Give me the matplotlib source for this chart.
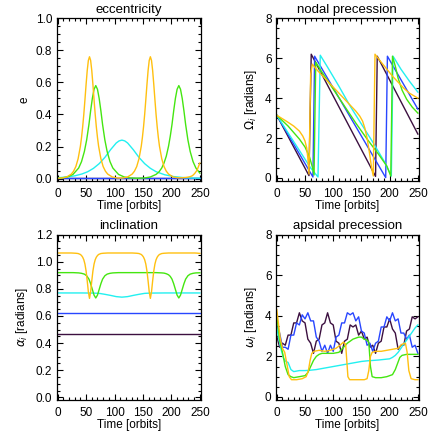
import matplotlib
matplotlib.use("Agg")
import matplotlib.pyplot as plt
from matplotlib.ticker import MultipleLocator, FormatStrFormatter

plt.rcParams['font.family'] = ['Liberation Sans', 'DejaVu Sans']

# colours of the five bodies (lowest to highest inclination)
c_purple = '#3c1040'
c_blue = '#2846ff'
c_cyan = '#22f0f0'
c_green = '#44e610'
c_orange = '#ffc010'

# ---- eccentricity / inclination, sampled per body ----
t_orange = [0, 8, 16, 24, 28, 32, 36, 40, 42, 44, 46, 48, 50, 52, 54, 56, 58, 60, 62, 64,
            66, 68, 70, 72, 76, 80, 84, 88, 96, 104, 110, 115, 123, 131, 135, 139, 143, 147, 149, 151,
            153, 155, 157, 159, 161, 163, 165, 167, 169, 171, 173, 175, 177, 179, 183, 187, 191, 195, 203, 211,
            219, 225, 229, 233, 237, 241, 245, 250]
e_orange = [.001, .004, .010, .028, .046, .075, .124, .202, .257, .323,
            .401, .492, .587, .674, .737, .760, .737, .674, .587, .492,
            .401, .323, .257, .202, .124, .075, .046, .028, .010, .004,
            .003, .004, .010, .028, .046, .075, .124, .202, .257, .323,
            .401, .492, .587, .674, .737, .760, .737, .674, .587, .492,
            .401, .323, .257, .202, .124, .075, .046, .028, .010, .005,
            .005, .007, .009, .012, .018, .032, .052, .097]
i_orange = [1.065, 1.065, 1.065, 1.065, 1.064, 1.063, 1.061, 1.054, 1.046, 1.034,
            1.015, .983, .932, .859, .778, .73, .778, .859, .932, .983,
            1.015, 1.034, 1.046, 1.054, 1.061, 1.063, 1.064, 1.065, 1.065, 1.065,
            1.065, 1.065, 1.065, 1.065, 1.064, 1.063, 1.061, 1.054, 1.046, 1.034,
            1.015, .983, .932, .859, .778, .73, .778, .859, .932, .983,
            1.015, 1.034, 1.046, 1.054, 1.061, 1.063, 1.064, 1.065, 1.065, 1.065,
            1.065, 1.065, 1.065, 1.065, 1.065, 1.065, 1.064, 1.062]

t_green = [0, 7, 17, 27, 37, 42, 47, 51, 55, 58,
           61, 64, 67, 70, 73, 76, 79, 83, 87, 92,
           97, 107, 117, 127, 140, 153, 163, 173, 178, 183,
           187, 191, 195, 198, 201, 204, 207, 210, 213, 216,
           219, 222, 225, 229, 233, 238, 243, 250]
e_green = [.002, .004, .010, .026, .066, .106, .169, .241, .337, .423,
           .500, .557, .580, .557, .500, .423, .337, .241, .169, .106,
           .066, .026, .010, .004, .002, .004, .010, .026, .041, .066,
           .097, .140, .203, .265, .337, .423, .500, .557, .580, .557,
           .500, .423, .337, .241, .169, .106, .066, .034]
i_green = [.92, .92, .92, .92, .918, .915, .909, .897, .872, .838,
           .796, .754, .733, .754, .796, .838, .872, .897, .909, .915,
           .918, .92, .92, .92, .92, .92, .92, .92, .919, .918,
           .9165, .912, .904, .892, .872, .838, .796, .754, .733, .754,
           .796, .838, .872, .897, .909, .915, .918, .919]

t_cyan = [0, 15, 30, 43, 53, 63, 73, 83, 93, 103,
          108, 113, 118, 123, 133, 143, 153, 163, 173, 188,
          203, 220, 235, 250]
e_cyan = [.005, .0095, .017, .029, .043, .064, .093, .132, .180, .222,
          .235, .24, .235, .222, .180, .132, .093, .064, .043, .024,
          .013, .0066, .0036, .002]
i_cyan = [.77, .77, .77, .77, .7695, .769, .767, .760, .752, .743,
          .741, .739, .741, .743, .752, .760, .767, .769, .7695, .77,
          .77, .77, .77, .77]

t_flat = [0, 250]
e_blue = [0.004, 0.004]
e_purple = [0.002, 0.002]
i_blue = [0.62, 0.62]
i_purple = [0.47, 0.47]

# ---- nodal precession ----
tn_purple = [0, 57, 61, 175, 178, 250]
node_purple = [3.14, 0.12, 6.2, 0.08, 6.1, 2.2]
tn_blue = [0, 64, 67, 193, 196, 250]
node_blue = [3.14, 0.05, 6.1, 0.02, 6.1, 3.45]
tn_cyan = [0, 20, 40, 60, 73, 77, 90, 110, 130, 150, 170, 190, 203, 206, 220, 235, 250]
node_cyan = [3.14, 2.26, 1.38, 0.5, 0.05, 6.15, 5.55, 4.6, 3.6, 2.7, 1.8, 0.85, 0.1, 6.1, 5.45, 4.85, 4.3]
tn_green = [0, 20, 40, 50, 58, 63, 66, 69, 80, 100, 120, 140, 160, 180, 195, 202,
            205, 210, 215, 222, 230, 240, 250]
node_green = [3.14, 2.6, 1.95, 1.55, 1.05, 0.55, 0.15, 5.8, 5.3, 4.45, 3.6, 2.75, 1.95, 1.2, 0.6, 0.1,
              6.1, 5.6, 5.0, 4.4, 3.95, 3.55, 3.25]
tn_orange = [0, 15, 30, 40, 46, 50, 53, 55, 57, 60, 63, 70, 80, 90, 100, 110, 120, 130, 140, 147,
             152, 156, 160, 164, 168, 171, 174, 178, 185, 195, 205, 215, 225, 235, 250]
node_orange = [3.14, 2.88, 2.6, 2.35, 2.1, 1.85, 1.5, 1.0, 0.2, 5.2, 5.7, 5.45, 5.15, 4.85, 4.55, 4.25,
               3.95, 3.65, 3.35, 3.1, 2.85, 2.5, 2.0, 1.3, 0.5, 0.1, 6.2, 6.05, 5.8, 5.45, 5.1, 4.8,
               4.5, 4.25, 4.0]

# ---- apsidal precession ----
ta_5 = list(range(0, 251, 5))
peri_purple = [3.0, 2.45, 2.65, 2.55, 3.05, 3.05, 3.65, 3.65, 4.15, 3.75,
               3.65, 2.85, 2.65, 2.15, 2.75, 2.85, 3.55, 3.65, 4.15, 3.65,
               3.55, 2.75, 2.65, 2.15, 2.75, 2.85, 3.55, 3.45, 3.55, 3.05,
               3.25, 2.85, 2.95, 2.45, 2.55, 2.15, 2.65, 2.75, 3.45, 3.45,
               3.85, 3.35, 3.15, 2.35, 2.55, 2.55, 3.25, 3.35, 3.95, 3.85, 3.95]
peri_blue = [3.5, 3.15, 2.45, 2.45, 2.35, 3.05, 3.05, 3.65, 3.55, 4.05,
             3.85, 4.15, 3.75, 3.75, 2.95, 2.75, 2.25, 2.55, 2.15, 2.55,
             2.25, 2.95, 3.05, 3.65, 3.65, 4.15, 4.05, 4.15, 3.75, 3.95,
             3.25, 3.15, 2.55, 2.65, 2.25, 2.65, 2.75, 3.45, 3.45, 3.95,
             3.75, 4.15, 3.75, 3.85, 3.15, 3.15, 2.85, 3.05, 2.45, 2.55, 2.15]
ta_cyan = [0, 4, 8, 12, 16, 20, 25, 30, 40, 50, 60, 70, 80, 90, 100, 110, 120, 130, 140, 150,
           160, 170, 180, 190, 200, 205, 210, 215, 220, 225, 230, 235, 240, 245, 250]
peri_cyan = [3.4, 2.8, 2.3, 1.9, 1.75, 1.7, 1.35, 1.25, 1.3, 1.3, 1.32, 1.35, 1.4, 1.45, 1.5, 1.55,
             1.6, 1.65, 1.7, 1.75, 1.78, 1.8, 1.82, 1.85, 1.88, 1.95, 2.05, 2.2, 2.4, 2.6, 2.8, 3.0,
             3.2, 3.4, 3.55]
ta_green = [0, 5, 10, 15, 20, 25, 30, 40, 50, 55, 60, 65, 70, 75, 80, 90, 100, 110, 115, 120,
            125, 130, 135, 140, 145, 150, 155, 160, 163, 166, 169, 175, 185, 195, 205, 210, 214, 218,
            222, 230, 240, 250]
peri_green = [4.0, 2.8, 2.2, 1.5, 1.1, 1.0, 0.95, 1.0, 1.05, 1.2, 1.5, 1.8, 2.0, 2.1, 2.15, 2.15,
              2.15, 2.2, 2.35, 2.5, 2.65, 2.75, 2.85, 2.9, 2.95, 2.95, 2.85, 2.8, 2.7, 1.5, 1.0, 0.95,
              0.95, 1.0, 1.1, 1.35, 1.65, 1.95, 2.05, 2.1, 2.1, 2.1]
ta_orange = [0, 3, 6, 10, 14, 18, 22, 26, 35, 45, 52, 56, 59, 62, 66, 75, 85, 95, 105, 112,
             118, 122, 124, 126, 129, 135, 145, 155, 160, 163, 166, 169, 175, 185, 195, 205, 215,
             222, 228, 231, 234, 238, 245, 250]
peri_orange = [4.3, 3.6, 2.9, 2.4, 2.2, 1.6, 1.0, 0.85, 0.85, 0.9, 1.0, 1.3, 1.8, 2.15, 2.25, 2.3,
               2.25, 2.3, 2.4, 2.55, 2.7, 2.6, 1.8, 1.0, 0.85, 0.85, 0.85, 0.85, 0.9, 1.3, 2.0, 2.2,
               2.25, 2.25, 2.3, 2.35, 2.4, 2.6, 2.65, 2.2, 1.3, 0.9, 0.85, 0.85]


def idl_axes(ax, title, ylabel, ylim, ymajor, yminor):
    ax.set_xlim(-2, 252)
    ax.set_ylim(*ylim)
    ax.xaxis.set_major_locator(MultipleLocator(50))
    ax.xaxis.set_minor_locator(MultipleLocator(10))
    ax.yaxis.set_major_locator(MultipleLocator(ymajor))
    ax.yaxis.set_minor_locator(MultipleLocator(yminor))
    ax.tick_params(which='both', direction='in', top=True, right=True, labelsize=8.5, width=0.8)
    ax.tick_params(which='major', length=4)
    ax.tick_params(which='minor', length=2)
    ax.tick_params(axis='x', pad=5)
    ax.tick_params(axis='y', pad=3)
    for s in ax.spines.values():
        s.set_linewidth(0.9)
    ax.set_title(title, fontsize=9.5, pad=4)
    ax.set_xlabel('Time [orbits]', fontsize=8.5, labelpad=0)
    ax.set_ylabel(ylabel, fontsize=8.5, labelpad=4)


fig = plt.figure(figsize=(4.36, 4.36), dpi=100)
ax_e = fig.add_axes([0.1296, 0.5849, 0.3314, 0.3732])
ax_n = fig.add_axes([0.6323, 0.5849, 0.3287, 0.3732])
ax_i = fig.add_axes([0.1296, 0.0826, 0.3314, 0.3791])
ax_w = fig.add_axes([0.6323, 0.0826, 0.3287, 0.3791])

lw = 1.0

# eccentricity
ax_e.plot(t_flat, e_purple, color=c_purple, lw=lw)
ax_e.plot(t_flat, e_blue, color=c_blue, lw=lw)
ax_e.plot(t_cyan, e_cyan, color=c_cyan, lw=lw)
ax_e.plot(t_green, e_green, color=c_green, lw=lw)
ax_e.plot(t_orange, e_orange, color=c_orange, lw=lw)
idl_axes(ax_e, 'eccentricity', 'e', (-0.015, 1.0), 0.2, 0.05)
ax_e.yaxis.set_major_formatter(FormatStrFormatter('%.1f'))

# nodal precession
ax_n.plot(tn_purple, node_purple, color=c_purple, lw=lw)
ax_n.plot(tn_blue, node_blue, color=c_blue, lw=lw)
ax_n.plot(tn_cyan, node_cyan, color=c_cyan, lw=lw)
ax_n.plot(tn_green, node_green, color=c_green, lw=lw)
ax_n.plot(tn_orange, node_orange, color=c_orange, lw=lw)
idl_axes(ax_n, 'nodal precession', r'$\Omega_i$ [radians]', (-0.15, 8), 2, 0.5)

# inclination
ax_i.plot(t_flat, i_purple, color=c_purple, lw=lw)
ax_i.plot(t_flat, i_blue, color=c_blue, lw=lw)
ax_i.plot(t_cyan, i_cyan, color=c_cyan, lw=lw)
ax_i.plot(t_green, i_green, color=c_green, lw=lw)
ax_i.plot(t_orange, i_orange, color=c_orange, lw=lw)
idl_axes(ax_i, 'inclination', r'$\alpha_i$ [radians]', (-0.02, 1.2), 0.2, 0.05)
ax_i.yaxis.set_major_formatter(FormatStrFormatter('%.1f'))

# apsidal precession
ax_w.plot(ta_5, peri_purple, color=c_purple, lw=lw)
ax_w.plot(ta_5, peri_blue, color=c_blue, lw=lw)
ax_w.plot(ta_cyan, peri_cyan, color=c_cyan, lw=lw)
ax_w.plot(ta_green, peri_green, color=c_green, lw=lw)
ax_w.plot(ta_orange, peri_orange, color=c_orange, lw=lw)
idl_axes(ax_w, 'apsidal precession', r'$\omega_i$ [radians]', (-0.15, 8), 2, 0.5)

fig.savefig('out.png', dpi=100)
